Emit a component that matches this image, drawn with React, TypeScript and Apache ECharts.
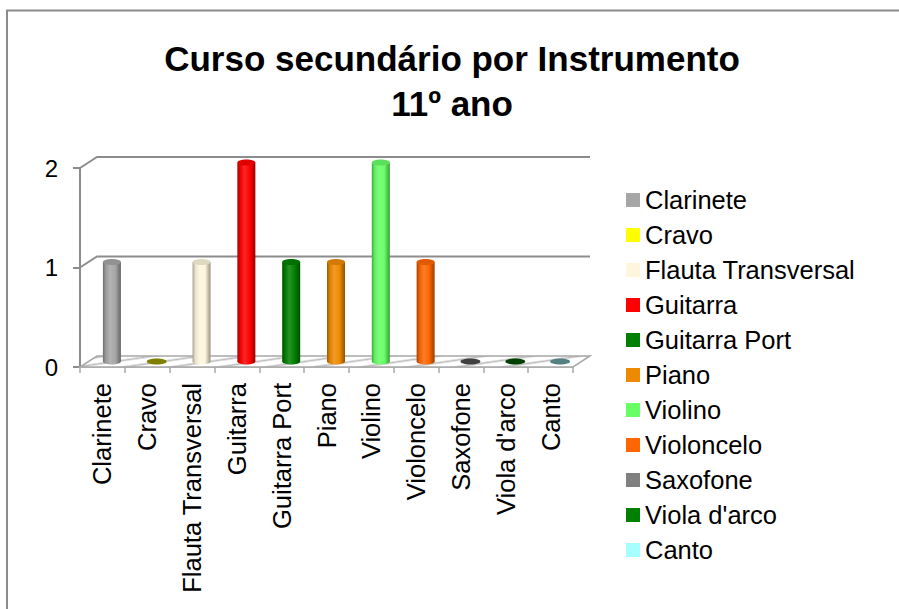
import React, { useEffect, useRef } from "react";
import * as echarts from "echarts";

const categories = [
  "Clarinete",
  "Cravo",
  "Flauta Transversal",
  "Guitarra",
  "Guitarra Port",
  "Piano",
  "Violino",
  "Violoncelo",
  "Saxofone",
  "Viola d'arco",
  "Canto",
];
const values = [1, 0, 1, 2, 1, 1, 2, 1, 0, 0, 0];
const colors = [
  "#a6a6a6",
  "#ffff00",
  "#fdf6dc",
  "#ff0000",
  "#008000",
  "#ee8a00",
  "#66ff66",
  "#ff6600",
  "#808080",
  "#008000",
  "#a6ffff",
];
const yTicks = [0, 1, 2];
const titleText = "Curso secundário por Instrumento\n11º ano";

const FONT = "'Liberation Sans', Arial, Helvetica, sans-serif";
const DX = 17;
const DY = -11;

function hexToRgb(h: string) {
  const n = parseInt(h.slice(1), 16);
  return [(n >> 16) & 255, (n >> 8) & 255, n & 255];
}
function mix(h: string, target: string, t: number) {
  const a = hexToRgb(h);
  const b = hexToRgb(target);
  const c = a.map((v, i) => Math.round(v + (b[i] - v) * t));
  return `rgb(${c[0]},${c[1]},${c[2]})`;
}

function cylGradient(c: string) {
  return new echarts.graphic.LinearGradient(0, 0, 1, 0, [
    { offset: 0, color: mix(c, "#000000", 0.35) },
    { offset: 0.15, color: mix(c, "#000000", 0.08) },
    { offset: 0.4, color: mix(c, "#ffffff", 0.15) },
    { offset: 0.7, color: c },
    { offset: 1, color: mix(c, "#000000", 0.4) },
  ]);
}

function floorGradient() {
  const stops: { offset: number; color: string }[] = [];
  const n = categories.length;
  for (let i = 0; i < n; i++) {
    const s = i / n;
    const w = 1 / n;
    stops.push({ offset: s, color: "#ffffff" });
    stops.push({ offset: s + w * 0.3, color: "#ffffff" });
    stops.push({ offset: s + w * 0.55, color: "#bdbdbd" });
    stops.push({ offset: s + w * 0.8, color: "#ffffff" });
  }
  stops.push({ offset: 1, color: "#ffffff" });
  return new echarts.graphic.LinearGradient(0, 0, 1, 0.15, stops);
}

export default function App() {
  const ref = useRef<HTMLDivElement>(null);
  useEffect(() => {
    document.body.style.margin = "0";
    const chart = echarts.init(ref.current!, null, { renderer: "svg" });

    const barSeries = categories.map((name, i) => ({
      type: "custom",
      name,
      itemStyle: { color: colors[i] },
      z: 5,
      data: [[i, values[i]]],
      renderItem: (params: any, api: any) => {
        const cat = api.value(0);
        const v = api.value(1);
        const top = api.coord([cat, v]);
        const base = api.coord([cat, 0]);
        const cx = top[0] + DX / 2 + 1;
        const ty = top[1] + DY / 2;
        const by = base[1] + DY / 2;
        const w = 18;
        const ry = 3;
        const c = colors[cat];
        if (v === 0) {
          return {
            type: "ellipse",
            shape: { cx, cy: by, rx: w / 2 + 1, ry },
            style: { fill: mix(c, "#000000", 0.5) },
          };
        }
        return {
          type: "group",
          children: [
            {
              type: "rect",
              shape: { x: cx - w / 2, y: ty, width: w, height: by - ty },
              style: { fill: cylGradient(c) },
            },
            {
              type: "ellipse",
              shape: { cx, cy: by, rx: w / 2, ry },
              style: { fill: cylGradient(c) },
            },
            {
              type: "ellipse",
              shape: { cx, cy: ty, rx: w / 2, ry },
              style: { fill: mix(c, "#000000", 0.12) },
            },
          ],
        };
      },
    }));

    const frameSeries = {
      type: "custom",
      name: "__frame",
      z: 1,
      silent: true,
      data: yTicks.map((t) => [0, t]),
      renderItem: (params: any, api: any) => {
        const cs = params.coordSys;
        const v = api.value(1);
        const y = api.coord([0, v])[1];
        const x0 = cs.x;
        const x1 = cs.x + cs.width;
        if (v === 0) {
          return {
            type: "polygon",
            shape: {
              points: [
                [x0, y],
                [x1, y],
                [x1 + DX, y + DY],
                [x0 + DX, y + DY],
              ],
            },
            style: { fill: floorGradient(), stroke: "#a8a8a8", lineWidth: 1.5 },
          };
        }
        return {
          type: "polyline",
          shape: {
            points: [
              [x0, y],
              [x0 + DX, y + DY],
              [x1 + DX, y + DY],
            ],
          },
          style: { stroke: "#8c8c8c", lineWidth: 2, fill: null },
        };
      },
    };

    chart.setOption({
      animation: false,
      backgroundColor: "#ffffff",
      textStyle: { fontFamily: FONT },
      title: {
        text: titleText,
        left: 447,
        top: 31,
        textAlign: "center",
        textStyle: {
          fontFamily: FONT,
          fontSize: 35,
          fontWeight: "bold",
          color: "#000000",
          lineHeight: 45,
        },
      },
      graphic: [
        {
          type: "rect",
          shape: { x: 7, y: 10.5, width: 1000, height: 700 },
          style: { fill: "none", stroke: "#8c8c8c", lineWidth: 2 },
          silent: true,
        },
      ],
      legend: {
        orient: "vertical",
        left: 621,
        top: 181,
        data: categories,
        icon: "rect",
        itemWidth: 14,
        itemHeight: 14,
        itemGap: 7,
        selectedMode: false,
        textStyle: {
          fontFamily: FONT,
          fontSize: 25.5,
          color: "#000000",
          lineHeight: 28,
        },
      },
      grid: { left: 80, top: 168, width: 493, height: 199 },
      xAxis: {
        type: "category",
        data: categories,
        axisLine: { show: true, lineStyle: { color: "#a8a8a8", width: 1.5 } },
        axisTick: { show: true, length: 6, interval: 0, lineStyle: { color: "#a8a8a8", width: 1.5 } },
        axisLabel: {
          interval: 0,
          rotate: 90,
          margin: 16,
          fontFamily: FONT,
          fontSize: 25.5,
          color: "#000000",
        },
        splitLine: { show: false },
      },
      yAxis: {
        type: "value",
        min: 0,
        max: 2,
        interval: 1,
        axisLine: { show: true, lineStyle: { color: "#8c8c8c", width: 2 } },
        axisTick: { show: true, length: 7, lineStyle: { color: "#8c8c8c", width: 2 } },
        axisLabel: {
          margin: 22,
          fontFamily: FONT,
          fontSize: 24,
          color: "#000000",
        },
        splitLine: { show: false },
      },
      series: [frameSeries, ...barSeries],
    });
    return () => chart.dispose();
  }, []);
  return <div ref={ref} style={{ width: 899, height: 609 }} />;
}
